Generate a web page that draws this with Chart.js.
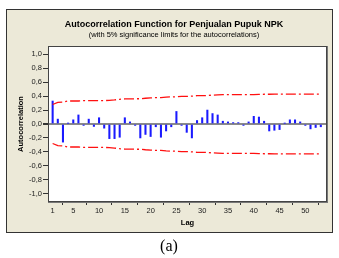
<!DOCTYPE html>
<html><head><meta charset="utf-8">
<script src="https://cdn.jsdelivr.net/npm/chart.js@4/dist/chart.umd.min.js"></script>
<style>html,body{margin:0;padding:0;background:#fff;overflow:hidden}#wrap{width:339px;height:258px;position:relative}</style>
</head><body><div id="wrap"><canvas id="c" width="339" height="258"></canvas></div>
<script>
const lags = [1,2,3,4,5,6,7,8,9,10,11,12,13,14,15,16,17,18,19,20,21,22,23,24,25,26,27,28,29,30,31,32,33,34,35,36,37,38,39,40,41,42,43,44,45,46,47,48,49,50,51,52,53];
const acf = [0.33,0.07,-0.26,0.01,0.06,0.13,-0.02,0.07,-0.035,0.09,
  -0.06,-0.21,-0.21,-0.19,0.09,0.03,-0.02,-0.20,-0.15,-0.18,
  -0.04,-0.19,-0.10,-0.04,0.18,-0.02,-0.12,-0.20,0.05,0.09,
  0.20,0.15,0.13,0.04,0.03,0.02,0.02,-0.02,0.03,0.11,
  0.10,0.04,-0.10,-0.09,-0.08,0.01,0.06,0.06,0.03,-0.02,
  -0.07,-0.05,-0.04];
const upperLimit = [0.28,0.31,0.315,0.33,0.33,0.33,0.335,0.335,0.335,0.335,
  0.337,0.338,0.345,0.355,0.36,0.362,0.362,0.363,0.37,0.375,
  0.38,0.38,0.387,0.39,0.39,0.397,0.397,0.40,0.407,0.407,
  0.408,0.415,0.418,0.421,0.421,0.422,0.422,0.422,0.422,0.422,
  0.425,0.427,0.427,0.428,0.429,0.429,0.429,0.43,0.43,0.43,
  0.43,0.43,0.43];
const lowerLimit = upperLimit.map(v => -v);
const yTickValues = [-1,-0.8,-0.6,-0.4,-0.2,0,0.2,0.4,0.6,0.8,1];
const xTickValues = [1,5,10,15,20,25,30,35,40,45,50];
const titleText = 'Autocorrelation Function for Penjualan Pupuk NPK';
const subtitleText = '(with 5% significance limits for the autocorrelations)';
const yTitleText = 'Autocorrelation';
const xTitleText = 'Lag';
const captionText = '(a)';

const SANS = '"Liberation Sans", Arial, sans-serif';

const decor = {
  id: 'decor',
  beforeDraw(chart) {
    const c = chart.ctx, a = chart.chartArea;
    c.save();
    c.fillStyle = '#ffffff';
    c.fillRect(0, 0, chart.width, chart.height);
    c.fillStyle = '#ECE9D8';
    c.fillRect(6, 9, 327, 224);
    c.strokeStyle = '#333';
    c.lineWidth = 1;
    c.strokeRect(6.5, 9.5, 326, 223);
    c.beginPath(); c.moveTo(6, 232.5); c.lineTo(333, 232.5); c.stroke();
    c.fillStyle = '#ffffff';
    c.fillRect(a.left, a.top, a.right - a.left, a.bottom - a.top);
    c.restore();
  },
  afterDraw(chart) {
    const c = chart.ctx, a = chart.chartArea;
    c.save();
    c.strokeStyle = '#444';
    c.lineWidth = 1;
    c.strokeRect(a.left + 0.5, a.top + 0.5, a.right - a.left - 1, a.bottom - a.top - 1);
    c.strokeStyle = '#777';
    c.beginPath();
    c.moveTo(a.right + 0.5, a.top); c.lineTo(a.right + 0.5, a.bottom + 1);
    c.moveTo(a.left, a.bottom + 0.5); c.lineTo(a.right + 1, a.bottom + 0.5);
    c.stroke();
    c.fillStyle = '#000';
    c.textAlign = 'center';
    c.textBaseline = 'middle';
    c.font = 'bold 9px ' + SANS;
    c.fillText(titleText, 174, 25);
    c.font = '7.5px ' + SANS;
    c.fillText(subtitleText, 174, 34.5);
    c.font = 'bold 7.5px ' + SANS;
    c.fillText(xTitleText, (a.left + a.right) / 2, 222.5);
    c.save();
    c.translate(21, (a.top + a.bottom) / 2);
    c.rotate(-Math.PI / 2);
    c.fillText(yTitleText, 0, 0);
    c.restore();
    c.font = '16px "Liberation Serif", "Times New Roman", serif';
    c.fillText(captionText, 169, 247);
    c.restore();
  }
};

new Chart(document.getElementById('c'), {
  type: 'bar',
  data: {
    datasets: [
      {
        type: 'bar',
        data: lags.map((l, i) => ({ x: l, y: acf[i] })),
        backgroundColor: '#1a1aff',
        borderWidth: 0,
        barThickness: 1.4,
        order: 2
      },
      {
        type: 'line',
        data: lags.map((l, i) => ({ x: l, y: upperLimit[i] })),
        borderColor: '#ff1010',
        borderWidth: 1.3,
        borderDash: [10, 3, 2, 3],
        pointRadius: 0,
        fill: false,
        tension: 0,
        order: 1
      },
      {
        type: 'line',
        data: lags.map((l, i) => ({ x: l, y: lowerLimit[i] })),
        borderColor: '#ff1010',
        borderWidth: 1.3,
        borderDash: [10, 3, 2, 3],
        pointRadius: 0,
        fill: false,
        tension: 0,
        order: 1
      }
    ]
  },
  options: {
    responsive: false,
    animation: false,
    devicePixelRatio: 1,
    layout: { padding: { left: 0, top: 46, right: 12, bottom: 36 } },
    plugins: { legend: { display: false }, tooltip: { enabled: false }, title: { display: false } },
    scales: {
      x: {
        type: 'linear',
        min: 0.1,
        max: 54.2,
        offset: false,
        afterFit(s) { s.height = 20; },
        afterBuildTicks(s) { s.ticks = xTickValues.map(v => ({ value: v })); },
        grid: { drawOnChartArea: false, drawTicks: true, tickLength: 3, tickColor: '#333', color: '#333' },
        border: { display: false },
        ticks: { color: '#222', font: { family: SANS, size: 7.5 }, padding: 1, maxRotation: 0, autoSkip: false, callback: v => String(v) }
      },
      y: {
        type: 'linear',
        min: -1.12,
        max: 1.12,
        afterFit(s) { s.width = 48; },
        afterBuildTicks(s) { s.ticks = yTickValues.map(v => ({ value: v })); },
        grid: {
          drawOnChartArea: true,
          drawTicks: true,
          tickLength: 5,
          tickColor: '#333',
          color: ctx => (ctx.tick && ctx.tick.value === 0) ? '#8a8a8a' : 'rgba(0,0,0,0)',
          lineWidth: ctx => (ctx.tick && ctx.tick.value === 0) ? 2 : 1
        },
        border: { display: false },
        ticks: { color: '#222', font: { family: SANS, size: 7.5 }, padding: 1, autoSkip: false,
          callback: v => Number(v).toFixed(1).replace('.', ',') }
      }
    }
  },
  plugins: [decor]
});
</script>
</body></html>
